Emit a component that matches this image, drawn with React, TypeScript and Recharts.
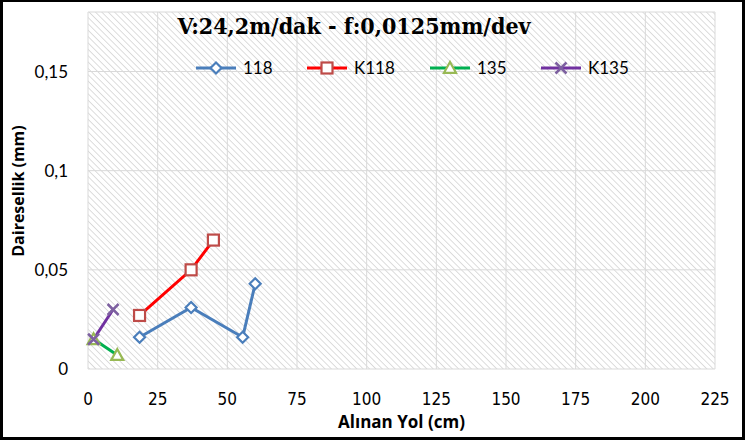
import React from "react";
import { LineChart, Line, XAxis, YAxis, CartesianGrid, Label } from "recharts";

const xTicks = [0, 25, 50, 75, 100, 125, 150, 175, 200, 225];
const yTicks = [0, 0.05, 0.1, 0.15];

const s118 = [
  { x: 18.5, y: 0.016 },
  { x: 37, y: 0.031 },
  { x: 55.5, y: 0.016 },
  { x: 60, y: 0.043 },
];
const sK118 = [
  { x: 18.5, y: 0.027 },
  { x: 37, y: 0.05 },
  { x: 45, y: 0.065 },
];
const s135 = [
  { x: 2, y: 0.015 },
  { x: 10.5, y: 0.007 },
];
const sK135 = [
  { x: 2, y: 0.015 },
  { x: 9, y: 0.03 },
];

const seriesNames = ["118", "K118", "135", "K135"];

const C118 = "#4a7ebb";
const CK118line = "#ff0000";
const CK118mark = "#be4b48";
const C135line = "#00b050";
const C135mark = "#98b954";
const CK135 = "#7030a0";
const CK135mark = "#7d60a0";

const Diamond = (props: any) => {
  const { cx, cy } = props;
  if (cx == null || cy == null) return null;
  const r = 5.5;
  return (
    <path
      d={`M${cx},${cy - r}L${cx + r},${cy}L${cx},${cy + r}L${cx - r},${cy}Z`}
      fill="#fff"
      stroke={C118}
      strokeWidth={2.2}
    />
  );
};
const Square = (props: any) => {
  const { cx, cy } = props;
  if (cx == null || cy == null) return null;
  const r = 5.5;
  return <rect x={cx - r} y={cy - r} width={2 * r} height={2 * r} fill="#fff" stroke={CK118mark} strokeWidth={2.2} />;
};
const Tri = (props: any) => {
  const { cx, cy } = props;
  if (cx == null || cy == null) return null;
  const r = 6;
  return (
    <path
      d={`M${cx},${cy - r}L${cx + r},${cy + r * 0.8}L${cx - r},${cy + r * 0.8}Z`}
      fill="#fff"
      stroke={C135mark}
      strokeWidth={2.2}
    />
  );
};
const Cross = (props: any) => {
  const { cx, cy } = props;
  if (cx == null || cy == null) return null;
  const r = 5.5;
  return (
    <path
      d={`M${cx - r},${cy - r}L${cx + r},${cy + r}M${cx + r},${cy - r}L${cx - r},${cy + r}`}
      stroke={CK135mark}
      strokeWidth={2.5}
      fill="none"
    />
  );
};

const legendItems = [
  { name: seriesNames[0], line: C118, Marker: Diamond },
  { name: seriesNames[1], line: CK118line, Marker: Square },
  { name: seriesNames[2], line: C135line, Marker: Tri },
  { name: seriesNames[3], line: CK135, Marker: Cross },
];

const LegendBlock = () => (
  <g transform="translate(196,56)">
    {legendItems.map((it, i) => {
      const x0 = [0, 111, 234, 345][i];
      return (
        <g key={it.name}>
          <line x1={x0} x2={x0 + 40} y1={12} y2={12} stroke={it.line} strokeWidth={3} />
          <it.Marker cx={x0 + 20} cy={12} />
          <text x={x0 + 47} y={18} fontSize={17} fontFamily="Lato, 'Open Sans', sans-serif" fill="#000">
            {it.name}
          </text>
        </g>
      );
    })}
  </g>
);

const fmt = (v: number) => String(v).replace(".", ",");

export default function App() {
  return (
    <div style={{ position: "absolute", left: 0, top: 0, width: 745, height: 440, background: "#fff" }}>
      <svg width={0} height={0} style={{ position: "absolute" }}>
        <defs>
          <pattern id="hatch" patternUnits="userSpaceOnUse" width={4.5} height={4.5} patternTransform="rotate(-45)">
            <rect width={4.5} height={4.5} fill="#ffffff" />
            <line x1={0} y1={0} x2={0} y2={4.5} stroke="#cfcfcf" strokeWidth={1.4} />
          </pattern>
        </defs>
      </svg>
      <LineChart width={745} height={440} margin={{ top: 12, right: 30, bottom: 41, left: 28 }}>
        <CartesianGrid stroke="#d9d9d9" fill="url(#hatch)" fillOpacity={1} />
        <XAxis
          type="number"
          dataKey="x"
          domain={[0, 225]}
          ticks={xTicks}
          axisLine={false}
          tickLine={false}
          tick={{ fill: "#000", fontSize: 17, fontFamily: "'Liberation Sans Narrow', 'DejaVu Sans Condensed', sans-serif" }}
          tickMargin={18}
          height={30}
        >
          <Label
            value="Alınan Yol (cm)"
            position="bottom"
            offset={17}
            style={{ fill: "#000", fontSize: 17, fontWeight: "bold", fontFamily: "'Open Sans', sans-serif" }}
          />
        </XAxis>
        <YAxis
          type="number"
          domain={[0, 0.18]}
          ticks={yTicks}
          axisLine={false}
          tickLine={false}
          tickFormatter={fmt}
          tick={{ fill: "#000", fontSize: 17, fontFamily: "Lato, 'Open Sans', sans-serif" }}
          tickMargin={14}
          width={60}
        />
        <Line data={s118} dataKey="y" name="118" stroke={C118} strokeWidth={3} dot={<Diamond />} isAnimationActive={false} />
        <Line data={sK118} dataKey="y" name="K118" stroke={CK118line} strokeWidth={3} dot={<Square />} isAnimationActive={false} />
        <Line data={s135} dataKey="y" name="135" stroke={C135line} strokeWidth={3} dot={<Tri />} isAnimationActive={false} />
        <Line data={sK135} dataKey="y" name="K135" stroke={CK135} strokeWidth={3} dot={<Cross />} isAnimationActive={false} />
        <LegendBlock />
        <text
          x={354}
          y={34}
          textAnchor="middle"
          style={{ fontSize: 23, fontWeight: "bold", fontFamily: "'DejaVu Serif Condensed', 'DejaVu Serif', serif", fill: "#000" }}
        >
          V:24,2m/dak - f:0,0125mm/dev
        </text>
        <text
          transform="translate(24,191) rotate(-90)"
          textAnchor="middle"
          style={{ fontSize: 16, fontWeight: "bold", fontFamily: "'Open Sans', sans-serif", fill: "#000" }}
        >
          Dairesellik (mm)
        </text>
      </LineChart>
      <div style={{ position: "absolute", left: 0, top: 0, width: 739, height: 435, border: "3px solid #000", borderTopWidth: 2, pointerEvents: "none" }} />
    </div>
  );
}
